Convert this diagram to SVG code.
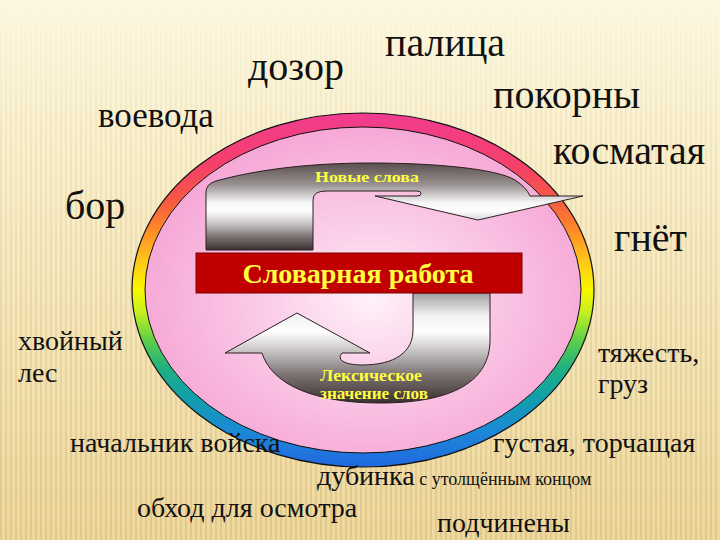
<svg xmlns="http://www.w3.org/2000/svg" width="720" height="540" viewBox="0 0 720 540">
<defs>
<linearGradient id="bg" x1="0" y1="0" x2="0" y2="1">
<stop offset="0" stop-color="#fcf7e0"/>
<stop offset="0.3" stop-color="#f9efcc"/>
<stop offset="1" stop-color="#efd89e"/>
</linearGradient>
<pattern id="stripes" width="5" height="10" patternUnits="userSpaceOnUse">
<rect x="0" y="0" width="2" height="10" fill="#c9ae6a"/>
</pattern>
<linearGradient id="fade" x1="0" y1="0" x2="0" y2="1">
<stop offset="0" stop-color="#fff" stop-opacity="0"/>
<stop offset="0.25" stop-color="#fff" stop-opacity="0.14"/>
<stop offset="1" stop-color="#fff" stop-opacity="0.38"/>
</linearGradient>
<mask id="stripeMask"><rect width="720" height="540" fill="url(#fade)"/></mask>
<linearGradient id="ring" gradientUnits="userSpaceOnUse" x1="0" y1="113" x2="0" y2="467">
<stop offset="0" stop-color="#f03c90"/>
<stop offset="0.15" stop-color="#f5406a"/>
<stop offset="0.25" stop-color="#f65a40"/>
<stop offset="0.33" stop-color="#ff8a28"/>
<stop offset="0.42" stop-color="#ffc818"/>
<stop offset="0.5" stop-color="#f8f800"/>
<stop offset="0.56" stop-color="#c8f020"/>
<stop offset="0.64" stop-color="#60d048"/>
<stop offset="0.72" stop-color="#20b080"/>
<stop offset="0.8" stop-color="#10a0a8"/>
<stop offset="0.9" stop-color="#1c88d8"/>
<stop offset="1" stop-color="#2268e0"/>
</linearGradient>
<radialGradient id="pink" cx="370" cy="300" r="230" gradientUnits="userSpaceOnUse" gradientTransform="translate(370 300) scale(1 0.75) translate(-370 -300)">
<stop offset="0" stop-color="#fff2f9"/>
<stop offset="0.4" stop-color="#fbd0ea"/>
<stop offset="1" stop-color="#f6a8d6"/>
</radialGradient>
<linearGradient id="topArrow" x1="0" y1="0" x2="0" y2="1">
<stop offset="0" stop-color="#5a4e4e"/>
<stop offset="0.25" stop-color="#9a9292"/>
<stop offset="0.45" stop-color="#f4f4f4"/>
<stop offset="0.55" stop-color="#ffffff"/>
<stop offset="0.7" stop-color="#c8c4c4"/>
<stop offset="0.85" stop-color="#7a7272"/>
<stop offset="1" stop-color="#3a3030"/>
</linearGradient>
<linearGradient id="botArrow" x1="0" y1="0" x2="0" y2="1">
<stop offset="0" stop-color="#a0a0a0"/>
<stop offset="0.2" stop-color="#f0f0f0"/>
<stop offset="0.35" stop-color="#ffffff"/>
<stop offset="0.55" stop-color="#c0bcbc"/>
<stop offset="0.75" stop-color="#7a7070"/>
<stop offset="1" stop-color="#3a3030"/>
</linearGradient>
<style>
.w{font-family:"Liberation Serif","Times New Roman",serif;fill:#111;}
.big{font-size:40px;}
.mid{font-size:35px;}
.sm{font-size:28px;}
.xs{font-size:18px;}
.y{font-family:"Liberation Serif","Times New Roman",serif;font-weight:bold;fill:#ffff40;}
.arrow{stroke:#2a2020;stroke-width:1;}
</style>
</defs>

<g id="background">
<rect width="720" height="540" fill="url(#bg)"/>
<rect width="720" height="540" fill="url(#stripes)" mask="url(#stripeMask)"/>
</g>

<g id="ring-node">
<ellipse cx="363" cy="290" rx="231" ry="177" fill="url(#ring)" stroke="#111" stroke-width="1.2"/>
<ellipse cx="363" cy="290" rx="218" ry="163" fill="url(#pink)" stroke="#111" stroke-width="1"/>
</g>

<g id="arrows">
<g id="arrow-new-words">
<path class="arrow" fill="url(#topArrow)" d="M206,250 L206,192 Q206,184 216,181 C270,166 330,163 370,163 C430,163 495,168 515,180 Q526,187 530,196 L583,196 L478,220 L375,196 L417,196 A4,2.5 0 0 0 417,191 L326,191 Q313,191 313,200 L313,250 Z"/>
<text class="y" x="367" y="182" font-size="15" text-anchor="middle" textLength="104" lengthAdjust="spacingAndGlyphs">Новые слова</text>
</g>
<g id="arrow-meaning">
<path class="arrow" fill="url(#botArrow)" d="M413,293 L490,293 L490,340 C490,380 455,403 380,403 C315,403 272,385 262,353 L225,353 L297,313 L370,353 L342,353 C336,360 345,365 362,365 C395,365 413,352 413,330 Z"/>
<text class="y" x="320" y="381" font-size="16" textLength="102" lengthAdjust="spacingAndGlyphs">Лексическое</text>
<text class="y" x="320" y="399" font-size="16" textLength="108" lengthAdjust="spacingAndGlyphs">значение слов</text>
</g>
</g>

<g id="title-bar">
<rect x="196" y="253" width="326" height="40" fill="#c00000" stroke="#7a0000" stroke-width="1"/>
<text class="y" x="358" y="283" font-size="28" text-anchor="middle">Словарная работа</text>
</g>

<g id="words">
<text class="w big" x="385" y="56">палица</text>
<text class="w big" x="248" y="80">дозор</text>
<text class="w big" x="493" y="108">покорны</text>
<text class="w mid" x="98" y="127">воевода</text>
<text class="w big" x="553" y="164">косматая</text>
<text class="w big" x="65" y="219">бор</text>
<text class="w big" x="614" y="251">гнёт</text>
<text class="w sm" x="18" y="350">хвойный</text>
<text class="w sm" x="18" y="382">лес</text>
<text class="w sm" x="598" y="362">тяжесть,</text>
<text class="w sm" x="598" y="393">груз</text>
<text class="w sm" x="70" y="452">начальник войска</text>
<text class="w sm" x="493" y="452">густая, торчащая</text>
<text class="w sm" x="317" y="485">дубинка<tspan class="xs"> с утолщённым концом</tspan></text>
<text class="w sm" x="137" y="517">обход для осмотра</text>
<text class="w sm" x="437" y="532">подчинены</text>
</g>
</svg>
